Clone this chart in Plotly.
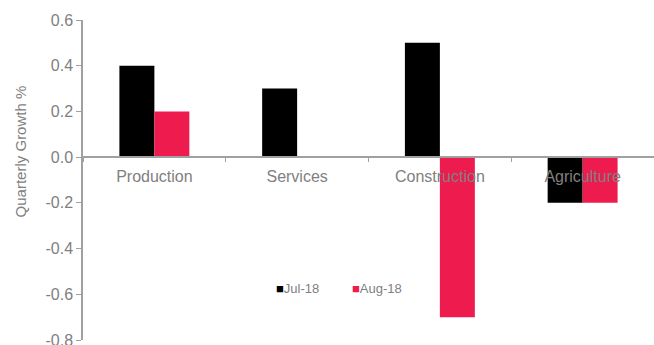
import plotly.graph_objects as go

# Quarterly growth by sector, two monthly releases
sectors = ["Production", "Services", "Construction", "Agriculture"]
jul_18 = [0.4, 0.3, 0.5, -0.2]
aug_18 = [0.2, 0.0, -0.7, -0.2]
series_names = ["Jul-18", "Aug-18"]
series_colors = ["#000000", "#EE1B4E"]

y_ticks = [-0.8, -0.6, -0.4, -0.2, 0.0, 0.2, 0.4, 0.6]
y_tick_text = ["-0.8", "-0.6", "-0.4", "-0.2", "0.0", "0.2", "0.4", "0.6"]
y_title = "Quarterly Growth %"

y_min, y_max = -0.8, 0.6
grey_text = "#808080"
grey_line = "#a0a0a0"
font_family = "Liberation Sans, Arial, sans-serif"

fig = go.Figure()
for name, vals, col in zip(series_names, [jul_18, aug_18], series_colors):
    fig.add_trace(go.Bar(x=sectors, y=vals, name=name, marker_color=col,
                         marker_line_width=0, showlegend=False))

# compact legend: coloured square glyph followed by the series name
legend_x = [0.335, 0.467]
for name, col, lx in zip(series_names, series_colors, legend_x):
    fig.add_annotation(xref="paper", yref="paper", x=lx, y=0.1625,
                       xanchor="left", yanchor="middle", showarrow=False,
                       text=f"<span style='color:{col}'>■</span>{name}",
                       font=dict(size=13, color=grey_text, family=font_family))

# vertical axis title, sitting a little above the plot's mid-height
fig.add_annotation(xref="paper", yref="paper", x=-0.11, y=0.59,
                   xanchor="center", yanchor="middle", showarrow=False,
                   textangle=-90, text=y_title,
                   font=dict(size=15, color=grey_text, family=font_family))

zero_pos = (0 - y_min) / (y_max - y_min)

fig.update_layout(
    width=654, height=345,
    margin=dict(l=83, r=0, t=20, b=5, autoexpand=False),
    paper_bgcolor="white", plot_bgcolor="white",
    barmode="group", bargap=0.51, bargroupgap=0,
    font=dict(family=font_family, color=grey_text, size=16),
    showlegend=False,
    xaxis=dict(anchor="free", position=zero_pos, showline=True, linecolor=grey_line,
               linewidth=1.5, ticks="outside", tickson="boundaries", ticklen=4,
               tickcolor=grey_line, showgrid=False, zeroline=False,
               ticklabelstandoff=5, automargin=False,
               tickfont=dict(size=16, color=grey_text), layer="above traces"),
    yaxis=dict(range=[y_min, y_max], tickvals=y_ticks, ticktext=y_tick_text,
               showline=True, linecolor=grey_line, linewidth=1.5, ticks="outside",
               ticklen=5, tickcolor=grey_line, showgrid=False, zeroline=False,
               ticklabeloverflow="allow", automargin=False,
               tickfont=dict(size=16, color=grey_text)),
)

fig.write_html("out.html")
